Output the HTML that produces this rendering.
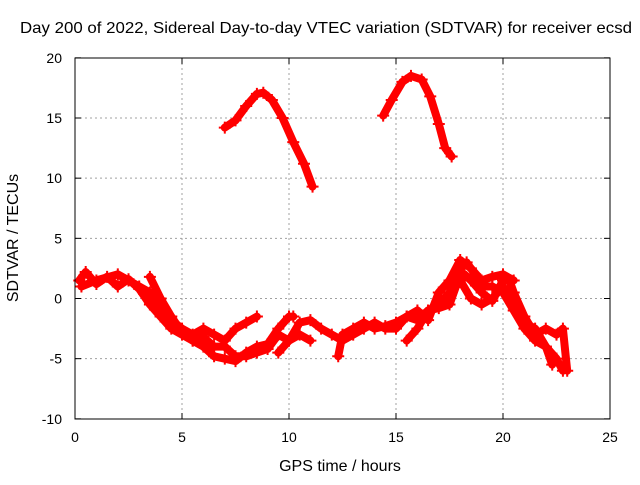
<!DOCTYPE html>
<html><head><meta charset="utf-8"><style>
body{margin:0;background:#fff;}
svg{font-family:"Liberation Sans",sans-serif;font-size:14px;}
.big{font-size:16px;}
</style></head><body>
<svg id="chart" width="640" height="480">
<text class="big" x="326" y="33" text-anchor="middle" textLength="612" lengthAdjust="spacingAndGlyphs">Day 200 of 2022, Sidereal Day-to-day VTEC variation (SDTVAR) for receiver ecsd</text>
<text class="big" x="340" y="471" text-anchor="middle">GPS time / hours</text>
<text class="big" transform="translate(18,238) rotate(-90)" text-anchor="middle">SDTVAR / TECUs</text>
<g id="grid"></g><g id="series"></g>
<rect x="75" y="58" width="535" height="361" fill="none" stroke="#000"/>
<g id="ticks"></g>
</svg>
<script>
const xTicks=[0,5,10,15,20,25];
const yTicks=[20,15,10,5,0,-5,-10];
const s1x=[7.0,7.5,8.0,8.5,8.8,9.2,9.7,10.2,10.7,11.1];
const s1y=[14.2,14.8,16.0,17.0,17.1,16.5,15.0,13.0,11.2,9.3];
const s2x=[14.4,14.8,15.3,15.7,16.2,16.6,17.0,17.3,17.6];
const s2y=[15.2,16.5,18.0,18.5,18.2,16.8,14.5,12.5,11.8];
const s3x=[0.2,0.5,1,1.5,2,2.5,3,3.5,4,4.5,5,5.5,6,6.5,7,7.5,8,8.5,9,9.5,10,10.5,11];
const s3y=[1.5,2.2,1.2,1.8,1.0,1.6,0.8,-0.5,-1.5,-2.5,-3.0,-3.5,-3.2,-4.0,-4.0,-4.8,-4.8,-4.5,-4.2,-3.0,-3.5,-3.0,-3.5];
const s4x=[0.3,1,2,2.5,3,3.5,4,4.5,5,5.5,6,6.5,7,7.5,8,8.5];
const s4y=[1.0,1.5,2.0,1.5,1.0,0.5,-1.0,-1.8,-2.5,-3.0,-2.5,-3.0,-3.5,-2.5,-2.0,-1.5];
const s5x=[3.5,4,4.5,5,5.5,6,6.5,7,7.5,8,8.5,9,9.5,10,10.2];
const s5y=[1.8,0,-1.5,-2.8,-3.5,-4.0,-4.8,-5.0,-5.2,-4.5,-4.0,-3.8,-2.5,-1.5,-1.5];
const s6x=[9.5,10,10.5,11,11.5,12,12.5];
const s6y=[-4.5,-3.5,-2.0,-1.8,-2.5,-3.0,-3.5];
const s7x=[12.3,12.5,13,13.5,14,14.5,15,15.5,16,16.5,17,17.5,18,18.3,18.7,19,19.5,20,20.5,21,21.5,22,22.5,22.8];
const s7y=[-4.8,-3.0,-2.5,-2.0,-2.5,-2.3,-2.0,-1.5,-1.8,-1.0,-0.5,0.5,2.5,3.0,2.0,1.0,1.0,0.5,-1.0,-2.5,-3.5,-4.0,-5.0,-6.0];
const s8x=[15.5,16,16.5,17,17.5,17.8,18.2,18.5,19,19.5,20,20.3,20.5,21,21.5,22,22.5,22.8,23];
const s8y=[-3.5,-2.5,-1.0,-0.8,-0.5,1.0,2.0,1.5,0.5,-0.2,1.5,1.5,0.5,-1.5,-3.0,-2.5,-3.0,-2.5,-6.0];
const s9x=[18,18.5,19,19.5,20,20.5,21,21.5,22,22.3];
const s9y=[1.5,0,-0.5,0,1.0,-0.5,-2.0,-2.5,-4.0,-5.5];
const s10x=[12.5,13,13.5,14,14.5,15,15.5,16,16.5,17,17.5,18,18.5,19,19.5,20,20.5];
const s10y=[-3.5,-3.0,-2.5,-2.0,-2.5,-2.5,-1.5,-1.0,-1.8,0.5,1.5,3.2,2.5,1.5,1.8,2.0,1.5];
const seriesX=[s1x,s2x,s3x,s4x,s5x,s6x,s7x,s8x,s9x,s10x];
const seriesY=[s1y,s2y,s3y,s4y,s5y,s6y,s7y,s8y,s9y,s10y];
const NS="http://www.w3.org/2000/svg";
const X=v=>75+v*(535/25);
const Y=v=>298.5-v*(361/30);
const grid=document.getElementById('grid'),ticks=document.getElementById('ticks'),ser=document.getElementById('series');
function mk(tag,at,parent){const e=document.createElementNS(NS,tag);for(const k in at)e.setAttribute(k,at[k]);parent.appendChild(e);return e;}
xTicks.forEach(t=>{
  if(t>0&&t<25){const g=mk('line',{x1:X(t),x2:X(t),y1:58,y2:419,stroke:'#a0a0a0','stroke-dasharray':'2,3'},grid);
  
  }
  mk('line',{x1:X(t),x2:X(t),y1:419,y2:413,stroke:'#000'},ticks);
  mk('line',{x1:X(t),x2:X(t),y1:58,y2:64,stroke:'#000'},ticks);
  const l=mk('text',{x:X(t),y:442,'text-anchor':'middle'},ticks);l.textContent=t;
  
  
});
yTicks.forEach(t=>{
  if(t>-10&&t<20){const g=mk('line',{x1:75,x2:610,y1:Y(t),y2:Y(t),stroke:'#a0a0a0','stroke-dasharray':'2,3'},grid);
  
  }
  mk('line',{x1:75,x2:81,y1:Y(t),y2:Y(t),stroke:'#000'},ticks);
  mk('line',{x1:604,x2:610,y1:Y(t),y2:Y(t),stroke:'#000'},ticks);
  const l=mk('text',{x:62,y:Y(t)+5,'text-anchor':'end'},ticks);l.textContent=t;
  
  
});
seriesX.forEach((xs,i)=>{
  const ys=seriesY[i];
  const pts=xs.map((x,j)=>X(x).toFixed(1)+','+Y(ys[j]).toFixed(1)).join(' ');
  const p=mk('polyline',{points:pts,fill:'none',stroke:'#ff0000','stroke-width':8,'stroke-linejoin':'round','stroke-linecap':'round'},ser);
  
  
  xs.forEach((x,j)=>{
    const cx=X(x),cy=Y(ys[j]);
    const m=mk('path',{d:`M${cx-6},${cy}h12M${cx},${cy-6}v12`,stroke:'#ff0000','stroke-width':2},ser);
    
    
  });
});
</script>
</body></html>
